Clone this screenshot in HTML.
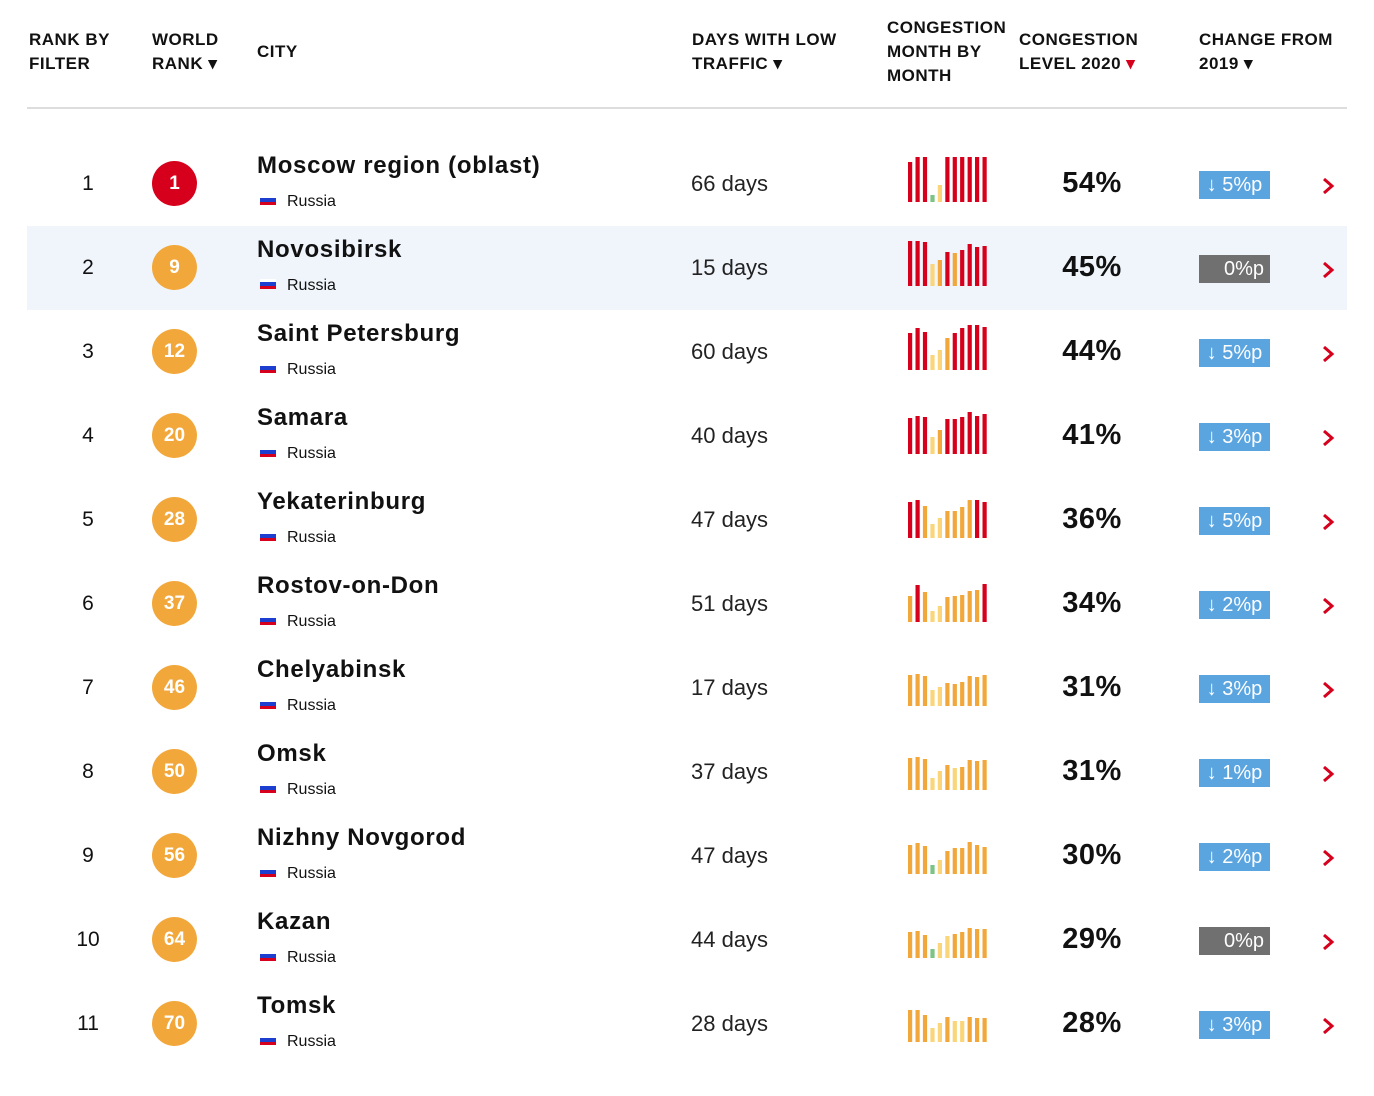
<!DOCTYPE html>
<html><head><meta charset="utf-8"><style>
body{margin:0;width:1374px;height:1096px;background:#fff;font-family:"Liberation Sans",sans-serif;color:#111;position:relative;overflow:hidden}
.h{position:absolute;font-weight:bold;font-size:17px;line-height:24px;color:#111;letter-spacing:0.5px}
.line{position:absolute;left:27px;top:107px;width:1320px;height:2px;background:#ddd}
.row{position:absolute;left:27px;width:1320px;height:84px}
.row.alt{background:#f0f5fc}
.rk{position:absolute;left:40px;width:42px;text-align:center;top:30px;font-size:21px}
.c{position:absolute;left:125px;top:19px;width:45px;height:45px;border-radius:50%;background:#f2a73b;color:#fff;font-weight:bold;font-size:19px;line-height:45px;text-align:center}
.c.r{background:#d6001c}
.nm{position:absolute;left:230px;top:10px;font-weight:bold;font-size:24px;letter-spacing:0.7px}
.fl{position:absolute;left:233px;top:53px;width:16px;height:10px}
.fl i{display:block;height:3.33px}
.ct{position:absolute;left:260px;top:51px;font-size:16px}
.d{position:absolute;left:664px;top:29px;font-size:22px;color:#222}
.bars{position:absolute;left:881px;top:0}
.p{position:absolute;left:1000px;width:130px;text-align:center;top:25px;font-weight:bold;font-size:29px;letter-spacing:0.5px}
.b{position:absolute;left:1172px;top:29px;width:71px;height:28px;background:#5aa4e0;color:#fff;font-size:20px;line-height:28px;text-align:center}
.b.z{background:#707070;text-align:right;padding-right:6px;width:65px}
.ch{position:absolute;left:1295px;top:35px}
</style></head><body>
<div class="h" style="left:29px;top:28px">RANK BY<br>FILTER</div>
<div class="h" style="left:152px;top:28px">WORLD<br>RANK ▾</div>
<div class="h" style="left:257px;top:40px">CITY</div>
<div class="h" style="left:692px;top:28px">DAYS WITH LOW<br>TRAFFIC ▾</div>
<div class="h" style="left:887px;top:16px">CONGESTION<br>MONTH BY<br>MONTH</div>
<div class="h" style="left:1019px;top:28px">CONGESTION<br>LEVEL 2020 <span style="color:#d6001c">▾</span></div>
<div class="h" style="left:1199px;top:28px">CHANGE FROM<br>2019 ▾</div>
<div class="line"></div>
<div id="rows">
<div class="row" style="top:142px"><div class="rk">1</div><div class="c r">1</div><div class="nm">Moscow region (oblast)</div><div class="fl"><i style="background:#fff"></i><i style="background:#1c3fd0"></i><i style="background:#d6001c"></i></div><div class="ct">Russia</div><div class="d">66 days</div><div class="bars"></div><div class="p">54%</div><div class="b">↓ 5%p</div><div class="ch"></div></div>
<div class="row alt" style="top:226px"><div class="rk">2</div><div class="c">9</div><div class="nm">Novosibirsk</div><div class="fl"><i style="background:#fff"></i><i style="background:#1c3fd0"></i><i style="background:#d6001c"></i></div><div class="ct">Russia</div><div class="d">15 days</div><div class="bars"></div><div class="p">45%</div><div class="b z">0%p</div><div class="ch"></div></div>
<div class="row" style="top:310px"><div class="rk">3</div><div class="c">12</div><div class="nm">Saint Petersburg</div><div class="fl"><i style="background:#fff"></i><i style="background:#1c3fd0"></i><i style="background:#d6001c"></i></div><div class="ct">Russia</div><div class="d">60 days</div><div class="bars"></div><div class="p">44%</div><div class="b">↓ 5%p</div><div class="ch"></div></div>
<div class="row" style="top:394px"><div class="rk">4</div><div class="c">20</div><div class="nm">Samara</div><div class="fl"><i style="background:#fff"></i><i style="background:#1c3fd0"></i><i style="background:#d6001c"></i></div><div class="ct">Russia</div><div class="d">40 days</div><div class="bars"></div><div class="p">41%</div><div class="b">↓ 3%p</div><div class="ch"></div></div>
<div class="row" style="top:478px"><div class="rk">5</div><div class="c">28</div><div class="nm">Yekaterinburg</div><div class="fl"><i style="background:#fff"></i><i style="background:#1c3fd0"></i><i style="background:#d6001c"></i></div><div class="ct">Russia</div><div class="d">47 days</div><div class="bars"></div><div class="p">36%</div><div class="b">↓ 5%p</div><div class="ch"></div></div>
<div class="row" style="top:562px"><div class="rk">6</div><div class="c">37</div><div class="nm">Rostov-on-Don</div><div class="fl"><i style="background:#fff"></i><i style="background:#1c3fd0"></i><i style="background:#d6001c"></i></div><div class="ct">Russia</div><div class="d">51 days</div><div class="bars"></div><div class="p">34%</div><div class="b">↓ 2%p</div><div class="ch"></div></div>
<div class="row" style="top:646px"><div class="rk">7</div><div class="c">46</div><div class="nm">Chelyabinsk</div><div class="fl"><i style="background:#fff"></i><i style="background:#1c3fd0"></i><i style="background:#d6001c"></i></div><div class="ct">Russia</div><div class="d">17 days</div><div class="bars"></div><div class="p">31%</div><div class="b">↓ 3%p</div><div class="ch"></div></div>
<div class="row" style="top:730px"><div class="rk">8</div><div class="c">50</div><div class="nm">Omsk</div><div class="fl"><i style="background:#fff"></i><i style="background:#1c3fd0"></i><i style="background:#d6001c"></i></div><div class="ct">Russia</div><div class="d">37 days</div><div class="bars"></div><div class="p">31%</div><div class="b">↓ 1%p</div><div class="ch"></div></div>
<div class="row" style="top:814px"><div class="rk">9</div><div class="c">56</div><div class="nm">Nizhny Novgorod</div><div class="fl"><i style="background:#fff"></i><i style="background:#1c3fd0"></i><i style="background:#d6001c"></i></div><div class="ct">Russia</div><div class="d">47 days</div><div class="bars"></div><div class="p">30%</div><div class="b">↓ 2%p</div><div class="ch"></div></div>
<div class="row" style="top:898px"><div class="rk">10</div><div class="c">64</div><div class="nm">Kazan</div><div class="fl"><i style="background:#fff"></i><i style="background:#1c3fd0"></i><i style="background:#d6001c"></i></div><div class="ct">Russia</div><div class="d">44 days</div><div class="bars"></div><div class="p">29%</div><div class="b z">0%p</div><div class="ch"></div></div>
<div class="row" style="top:982px"><div class="rk">11</div><div class="c">70</div><div class="nm">Tomsk</div><div class="fl"><i style="background:#fff"></i><i style="background:#1c3fd0"></i><i style="background:#d6001c"></i></div><div class="ct">Russia</div><div class="d">28 days</div><div class="bars"></div><div class="p">28%</div><div class="b">↓ 3%p</div><div class="ch"></div></div>
</div>
<script>
var H=[[40,45,45,7,17,45,45,45,45,45,45],[45,45,44,22,26,34,33,36,42,39,40],[37,42,38,15,20,32,37,42,45,45,43],[36,38,37,17,24,35,35,37,42,38,40],[36,38,32,14,20,27,27,31,38,38,36],[26,37,30,11,16,25,26,27,31,32,38],[31,32,30,16,19,23,22,24,30,29,31],[32,33,31,12,19,25,22,23,30,29,30],[29,31,28,9,14,23,26,26,32,29,27],[26,27,23,9,15,22,24,26,30,29,29],[32,32,27,14,19,25,21,21,25,24,24]];
var C=["rrrglrrrrrr","rrrlororrrr","rrrllorrrrr","rrrlorrrrrr","rrolloooorr","orollooooor","ooolloooooo","ooolloloooo","ooogloooooo","ooogllooooo","ooollollooo"];
var col={r:"#d6001c",o:"#f2a73b",l:"#fad57a",g:"#7dc383"};
document.querySelectorAll('.bars').forEach(function(el,k){
 var s='<svg width="90" height="84">';
 for(var i=0;i<11;i++){var h=H[k][i];s+='<rect x="'+(i*7.45).toFixed(1)+'" y="'+(60-h)+'" width="4.2" height="'+h+'" fill="'+col[C[k][i]]+'"/>';}
 el.innerHTML=s+'</svg>';
});
document.querySelectorAll('.ch').forEach(function(el){
 el.innerHTML='<svg width="14" height="18"><polyline points="2,2 10,9 2,16" fill="none" stroke="#d6001c" stroke-width="3"/></svg>';
});
</script>
</body></html>
